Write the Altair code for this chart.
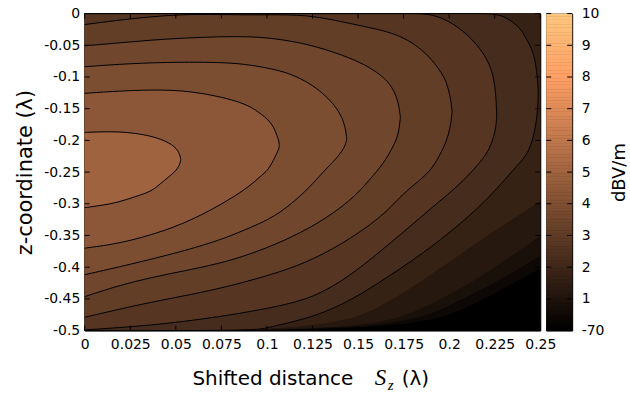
import altair as alt
import pandas as pd
import numpy as np

# ---------------- axis / colour-bar ticks ----------------
x_ticks = [0, 0.025, 0.05, 0.075, 0.1, 0.125, 0.15, 0.175, 0.2, 0.225, 0.25]
y_ticks = [0, -0.05, -0.1, -0.15, -0.2, -0.25, -0.3, -0.35, -0.4, -0.45, -0.5]
cb_ticks = [0, 1, 2, 3, 4, 5, 6, 7, 8, 9, 10]

# ---------------- contour regions ----------------
# each level: x samples, upper boundary z, lower boundary z  (region f >= level)
c1_x = [0, 0.0088, 0.0182, 0.0279, 0.0365, 0.0416, 0.0460, 0.0492, 0.0511, 0.0522, 0.0527]
c1_top = [-0.1874, -0.1865, -0.1862, -0.1887, -0.1934, -0.1981, -0.2036, -0.2099, -0.2162, -0.2225, -0.2303]
c1_bot = [-0.3061, -0.3027, -0.2980, -0.2885, -0.2807, -0.2681, -0.2579, -0.2500, -0.2437, -0.2374, -0.2303]

c2_x = [0, 0.0197, 0.0438, 0.0635, 0.0875, 0.0963, 0.1007, 0.1037, 0.1056, 0.1066, 0.1068]
c2_top = [-0.1258, -0.1219, -0.1195, -0.1242, -0.1399, -0.1572, -0.1675, -0.1785, -0.1934, -0.2013, -0.2075]
c2_bot = [-0.3700, -0.3626, -0.3432, -0.3197, -0.2799, -0.2568, -0.2469, -0.2303, -0.2193, -0.2123, -0.2075]

c3_x = [0, 0.0252, 0.0525, 0.0744, 0.0875, 0.1018, 0.1127, 0.1236, 0.1307, 0.1362, 0.1400, 0.1422, 0.1433, 0.1438]
c3_top = [-0.0838, -0.0786, -0.0763, -0.0770, -0.0794, -0.0865, -0.0943, -0.1101, -0.1258, -0.1415, -0.1572, -0.1714, -0.1855, -0.1981]
c3_bot = [-0.4119, -0.3954, -0.3761, -0.3572, -0.3417, -0.3241, -0.3022, -0.2736, -0.2500, -0.2343, -0.2217, -0.2123, -0.2044, -0.1981]

c4_x = [0, 0.0182, 0.0365, 0.0547, 0.0729, 0.0912, 0.1094, 0.1276, 0.1459, 0.1565, 0.1641, 0.1685, 0.1712, 0.1726, 0.1732]
c4_top = [-0.0508, -0.0464, -0.0417, -0.0385, -0.0365, -0.0358, -0.0409, -0.0519, -0.0700, -0.0849, -0.1006, -0.1148, -0.1321, -0.1478, -0.1635]
c4_bot = [-0.4465, -0.4292, -0.4162, -0.4057, -0.3951, -0.3794, -0.3585, -0.3322, -0.2956, -0.2618, -0.2358, -0.2138, -0.1981, -0.1824, -0.1635]

c5_x = [0, 0.0252, 0.0487, 0.0689, 0.0875, 0.1072, 0.1253, 0.1455, 0.1641, 0.1729, 0.1811, 0.1893, 0.1947, 0.1986, 0.2008, 0.2016]
c5_top = [-0.0173, -0.0079, -0.0019, -0.0009, -0.0024, -0.0016, -0.0031, -0.0157, -0.0266, -0.0354, -0.0480, -0.0684, -0.0888, -0.1069, -0.1336, -0.1541]
c5_bot = [-0.4791, -0.4619, -0.4484, -0.4371, -0.4239, -0.4077, -0.3882, -0.3561, -0.3176, -0.2893, -0.2689, -0.2500, -0.2248, -0.2013, -0.1777, -0.1541]

c6_x = [0, 0.0365, 0.0729, 0.1094, 0.1276, 0.1459, 0.1658, 0.1783, 0.1911, 0.2030, 0.2123, 0.2183, 0.2221, 0.2246, 0.2257, 0.2261]
c6_top = [0, 0, 0, 0, 0, 0, 0, 0, 0, -0.0165, -0.0393, -0.0605, -0.0794, -0.1022, -0.1305, -0.1619]
c6_bot = [-0.4989, -0.4921, -0.4791, -0.4607, -0.4450, -0.4135, -0.3664, -0.3365, -0.3043, -0.2767, -0.2500, -0.2296, -0.2138, -0.1934, -0.1777, -0.1619]

c7_x = [0, 0.0908, 0.0985, 0.1094, 0.1276, 0.1459, 0.1658, 0.1893, 0.2128, 0.2276, 0.2341, 0.2396, 0.2431, 0.2456, 0.2475, 0.2486, 0.2489]
c7_top = [0, 0, 0, 0, 0, 0, 0, 0, 0, 0, -0.0115, -0.0245, -0.0440, -0.0566, -0.0786, -0.1038, -0.1274]
c7_bot = [-0.5, -0.5, -0.4969, -0.4895, -0.4764, -0.4528, -0.4167, -0.3711, -0.3160, -0.2720, -0.2500, -0.2327, -0.2201, -0.2013, -0.1777, -0.1509, -0.1274]

c8_x = [0, 0.1346, 0.1641, 0.1893, 0.2166, 0.25]
c8_top = [0, 0, 0, 0, 0, 0]
c8_bot = [-0.5, -0.5, -0.4607, -0.4135, -0.3585, -0.2956]

c9_x = [0, 0.1537, 0.1838, 0.2166, 0.25]
c9_top = [0, 0, 0, 0, 0]
c9_bot = [-0.5, -0.5, -0.4686, -0.4182, -0.3506]

c10_x = [0, 0.1701, 0.2002, 0.2276, 0.25]
c10_top = [0, 0, 0, 0, 0]
c10_bot = [-0.5, -0.5, -0.4607, -0.4214, -0.3821]

c11_x = [0, 0.1838, 0.2112, 0.2330, 0.25]
c11_top = [0, 0, 0, 0, 0]
c11_bot = [-0.5, -0.5, -0.4607, -0.4292, -0.4025]

# band colour value (colour-bar units) for each region
band_value = [5.0, 4.4, 3.9, 3.5, 3.1, 2.7, 2.2, 1.7, 1.2, 0.8, 0.4]

regions = [
    (c1_x, c1_top, c1_bot), (c2_x, c2_top, c2_bot), (c3_x, c3_top, c3_bot),
    (c4_x, c4_top, c4_bot), (c5_x, c5_top, c5_bot), (c6_x, c6_top, c6_bot),
    (c7_x, c7_top, c7_bot), (c8_x, c8_top, c8_bot), (c9_x, c9_top, c9_bot),
    (c10_x, c10_top, c10_bot), (c11_x, c11_top, c11_bot),
]
n_lined = 7  # contour lines drawn for the first seven levels

# ---------------- scales / axes ----------------
W, H = 457, 318
FONT = "DejaVu Sans"
INTERP = "basis"
xs = alt.Scale(domain=[0, 0.25], nice=False, zero=False)
ys = alt.Scale(domain=[-0.5, 0], nice=False, zero=False)
copper = alt.Scale(domain=[0, 8, 10], range=["#000000", "#ff9f65", "#ffc77f"], interpolate="rgb")

x_axis = alt.Axis(values=x_ticks, labelExpr="'' + datum.value", title=None,
                  ticks=False, tickSize=0, domain=False, grid=False, labelPadding=7,
                  labelFlush=False)
y_axis = alt.Axis(values=y_ticks, labelExpr="'' + datum.value", title="z-coordinate (λ)",
                  ticks=False, tickSize=0, domain=False, grid=False, labelPadding=5,
                  titlePadding=8, titleFontSize=21, labelFlush=False)

layers = []
for k in range(len(regions) - 1, -1, -1):
    X, T, B = regions[k]
    df = pd.DataFrame({"x": X, "top": T, "bot": B, "v": band_value[k]})
    layers.append(
        alt.Chart(df).mark_area(orient="vertical", interpolate=INTERP).encode(
            x=alt.X("x:Q", scale=xs, axis=x_axis),
            y=alt.Y("top:Q", scale=ys, axis=y_axis),
            y2="bot:Q",
            color=alt.Color("v:Q", scale=copper, legend=None),
        )
    )

# contour lines: upper and lower branch of each level, both ordered by x
rows = []
for k in range(n_lined):
    X, T, B = regions[k]
    for branch, Z in (("t", T), ("b", B)):
        for xx, zz in zip(X, Z):
            rows.append({"lvl": f"{k}{branch}", "x": xx, "top": zz})
lines_df = pd.DataFrame(rows)
layers.append(
    alt.Chart(lines_df).mark_line(color="black", strokeWidth=1, interpolate=INTERP).encode(
        x=alt.X("x:Q", scale=xs, axis=x_axis),
        y=alt.Y("top:Q", scale=ys, axis=y_axis),
        detail="lvl:N",
    )
)

# inward tick marks (mirrored)
xt_df = pd.DataFrame({"x": x_ticks})
yt_df = pd.DataFrame({"top": y_ticks})
for y0, y1 in [(H, H - 5), (0, 5)]:
    layers.append(alt.Chart(xt_df).mark_rule(color="black", strokeWidth=1).encode(
        x=alt.X("x:Q", scale=xs, axis=x_axis), y=alt.value(y0), y2=alt.value(y1)))
for x0, x1 in [(0, 5), (W, W - 5)]:
    layers.append(alt.Chart(yt_df).mark_rule(color="black", strokeWidth=1).encode(
        y=alt.Y("top:Q", scale=ys, axis=y_axis), x=alt.value(x0), x2=alt.value(x1)))

# x-axis title assembled from pieces (plain + italic math S with subscript z)
title_parts = ["Shifted distance", "S", "z", "(λ)"]
t_styles = [
    dict(font=FONT, fontSize=20, fontStyle="normal", dx=108, dy=373),
    dict(font="Liberation Serif", fontSize=23, fontStyle="italic", dx=291, dy=373),
    dict(font="Liberation Serif", fontSize=15, fontStyle="italic", dx=304, dy=378),
    dict(font=FONT, fontSize=20, fontStyle="normal", dx=318, dy=373),
]
for txt, st in zip(title_parts, t_styles):
    layers.append(
        alt.Chart(pd.DataFrame({"t": [txt]})).mark_text(
            align="left", baseline="alphabetic", font=st["font"], fontSize=st["fontSize"],
            fontStyle=st["fontStyle"], color="black"
        ).encode(text="t:N", x=alt.value(st["dx"]), y=alt.value(st["dy"]))
    )

main = alt.layer(*layers).properties(width=W, height=H)

# ---------------- colour bar ----------------
step = 0.05
cb_v0 = np.arange(0, 10, step)
cb_df = pd.DataFrame({"v0": cb_v0, "v1": np.minimum(cb_v0 + step * 1.3, 10), "v": cb_v0 + step / 2})
cb_scale = alt.Scale(domain=[0, 10], nice=False, zero=False)
cb_axis = alt.Axis(orient="right", values=cb_ticks,
                   labelExpr="datum.value == 0 ? '-70' : '' + datum.value",
                   ticks=False, tickSize=0, domain=False, grid=False, labelPadding=9,
                   title="dBV/m", titleAngle=270, titleFontSize=18, titlePadding=25,
                   labelFlush=False)
cb_rect = alt.Chart(cb_df).mark_rect(strokeWidth=0).encode(
    x=alt.value(0), x2=alt.value(26),
    y=alt.Y("v0:Q", scale=cb_scale, axis=cb_axis), y2="v1:Q",
    color=alt.Color("v:Q", scale=copper, legend=None),
)
cbt_df = pd.DataFrame({"v0": cb_ticks})
cb_layers = [cb_rect]
for x0, x1 in [(0, 5), (26, 21)]:
    cb_layers.append(alt.Chart(cbt_df).mark_rule(color="black", strokeWidth=1).encode(
        y=alt.Y("v0:Q", scale=cb_scale, axis=cb_axis), x=alt.value(x0), x2=alt.value(x1)))
cbar = alt.layer(*cb_layers).properties(width=26, height=H)

chart = alt.hconcat(main, cbar, spacing=6, bounds="flush").resolve_scale(
    y="independent"
).properties(
    padding={"left": 14, "top": 5, "right": 0, "bottom": 0}, background="white"
).configure_view(
    stroke="black", strokeWidth=1, fill="black"
).configure_axis(
    labelFont=FONT, labelFontSize=14, labelColor="black",
    titleFont=FONT, titleFontSize=20, titleFontWeight="normal", titleColor="black",
)

chart.save("out.html", embed_options={"renderer": "svg", "actions": False})
